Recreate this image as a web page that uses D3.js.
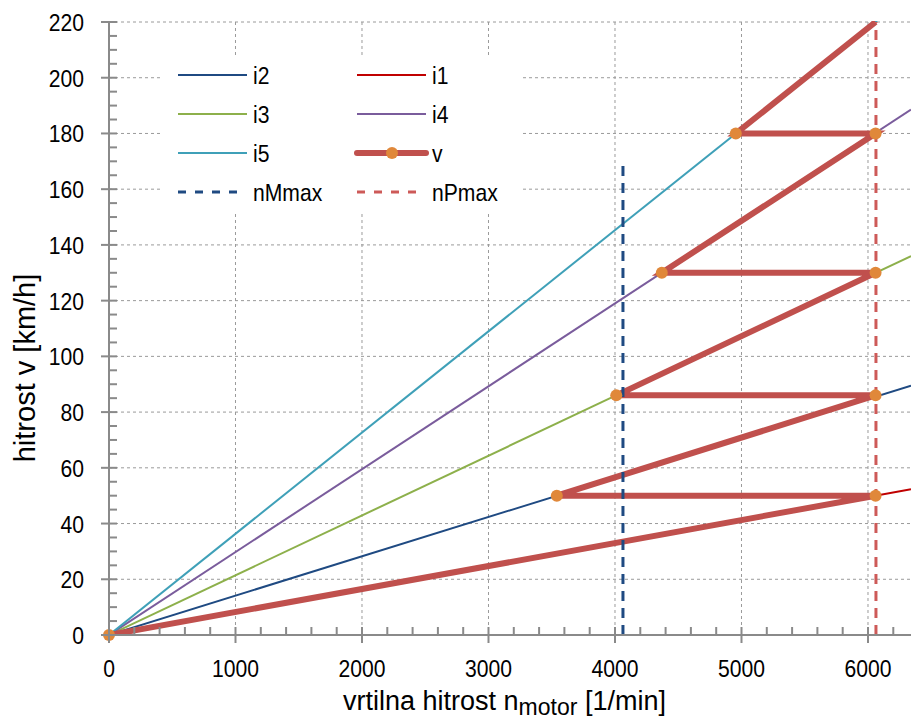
<!DOCTYPE html>
<meta charset="utf-8">
<script src="https://cdn.jsdelivr.net/npm/d3@7"></script>
<style>
  body { margin: 0; background: #fff; }
  text { font-family: "Liberation Sans", Arial, sans-serif; fill: #000; }
</style>
<div id="chart"></div>
<script>
// gear lines: speed reached at the right edge of the plot (rpm = rpmEdge)
var gears = ["i1", "i2", "i3", "i4", "i5"];
var rpmEdge = 6340;
var gearSpeedAtEdge = [52.3, 89.5, 136, 188.6, 230.3];
var gearColors = ["#c00000", "#1f4a82", "#8db04b", "#7a5c9c", "#3fa0b8"];

// saw-tooth v curve (shifting at nPmax)
var vRpm   = [0, 6060, 3540, 6060, 4010, 6060, 4370, 6060, 4955, 6060];
var vSpeed = [0,   50,   50,   86,   86,  130,  130,  180,  180,  220];

var nMmax = 4063, nMmaxTop = 170;
var nPmax = 6063, nPmaxTop = 220;

var xTicks = [0, 1000, 2000, 3000, 4000, 5000, 6000];
var yTicks = [0, 20, 40, 60, 80, 100, 120, 140, 160, 180, 200, 220];

var width = 911, height = 720;
var m = {l: 109, r: 911, t: 22, b: 635};
var narrow = 0.88;

var svg = d3.select("#chart").append("svg")
    .attr("width", width)
    .attr("height", height);

var x = d3.scaleLinear().domain([0, rpmEdge]).range([m.l, m.r]);
var y = d3.scaleLinear().domain([0, 220]).range([m.b, m.t]);

svg.append("clipPath").attr("id", "plot")
  .append("rect").attr("x", m.l).attr("y", m.t - 1)
    .attr("width", m.r - m.l).attr("height", m.b - m.t + 1);

// narrow text helper (reference uses a condensed face)
function ntext(g, px, py, str, size, anchor) {
  return g.append("text")
    .attr("transform", "translate(" + px + "," + py + ") scale(" + narrow + ",1)")
    .attr("text-anchor", anchor || "start")
    .style("font-size", size + "px")
    .text(str);
}

// grid
var grid = svg.append("g").attr("stroke", "#9a9a9a").attr("stroke-dasharray", "3,3").attr("stroke-width", 1);
grid.selectAll(".gx").data(xTicks.slice(1)).enter().append("line")
  .attr("x1", d => x(d)).attr("x2", d => x(d)).attr("y1", m.t).attr("y2", m.b);
grid.selectAll(".gy").data(yTicks.slice(1)).enter().append("line")
  .attr("x1", m.l).attr("x2", m.r).attr("y1", d => y(d)).attr("y2", d => y(d));

var plot = svg.append("g").attr("clip-path", "url(#plot)");
var line = d3.line().x(d => x(d[0])).y(d => y(d[1]));

// gear lines
gears.forEach(function(g, i) {
  plot.append("path")
    .attr("d", line([[0, 0], [rpmEdge, gearSpeedAtEdge[i]]]))
    .attr("fill", "none").attr("stroke", gearColors[i]).attr("stroke-width", 2);
});

// v
var vPts = vRpm.map((r, i) => [r, vSpeed[i]]);
plot.append("path").attr("d", line(vPts))
  .attr("fill", "none").attr("stroke", "#c0504d").attr("stroke-width", 6);

// dashed limits
plot.append("line").attr("x1", x(nMmax)).attr("x2", x(nMmax))
  .attr("y1", y(0)).attr("y2", y(nMmaxTop))
  .attr("stroke", "#1f4a82").attr("stroke-width", 3).attr("stroke-dasharray", "10,7");
plot.append("line").attr("x1", x(nPmax)).attr("x2", x(nPmax))
  .attr("y1", y(0)).attr("y2", y(nPmaxTop))
  .attr("stroke", "#cd5a58").attr("stroke-width", 3).attr("stroke-dasharray", "10,7");

// markers (last point sits on the top edge, no marker)
svg.selectAll(".mk").data(vPts.slice(0, -1)).enter().append("circle")
  .attr("cx", d => x(d[0])).attr("cy", d => y(d[1])).attr("r", 6)
  .attr("fill", "#e0883a");

// axes
var ax = svg.append("g").attr("stroke", "#8a8a8a").attr("stroke-width", 2);
ax.append("line").attr("x1", m.l).attr("x2", m.l).attr("y1", m.t).attr("y2", m.b);
ax.append("line").attr("x1", m.l).attr("x2", m.r).attr("y1", m.b).attr("y2", m.b);

ax.selectAll(".xm").data(d3.range(0, rpmEdge, 200)).enter().append("line")
  .attr("x1", d => x(d)).attr("x2", d => x(d))
  .attr("y1", m.b - 8).attr("y2", d => d % 1000 === 0 ? m.b + 8 : m.b);
ax.selectAll(".ym").data(d3.range(0, 221, 5)).enter().append("line")
  .attr("y1", d => y(d)).attr("y2", d => y(d))
  .attr("x1", d => d % 20 === 0 ? m.l - 8 : m.l).attr("x2", m.l + 8);

xTicks.forEach(d => ntext(svg, x(d), 677, d, 24, "middle"));
yTicks.forEach(d => ntext(svg, 84, y(d) + 9, d, 24, "end"));

// axis titles
svg.append("text")
  .attr("transform", "translate(35,368) rotate(-90)")
  .attr("text-anchor", "middle").style("font-size", "29px")
  .text("hitrost v [km/h]");
var xt = svg.append("text").attr("x", 343).attr("y", 710)
  .style("font-size", "27px");
xt.append("tspan").text("vrtilna hitrost n");
xt.append("tspan").attr("dy", 5).style("font-size", "23px").text("motor");
xt.append("tspan").attr("dy", -5).text(" [1/min]");

// legend
var leg = svg.append("g");
leg.append("rect").attr("x", 160).attr("y", 55).attr("width", 360).attr("height", 157).attr("fill", "#fff");
var legItems = [
  {name: "i2", color: gearColors[1], col: 0, row: 0},
  {name: "i1", color: gearColors[0], col: 1, row: 0},
  {name: "i3", color: gearColors[2], col: 0, row: 1},
  {name: "i4", color: gearColors[3], col: 1, row: 1},
  {name: "i5", color: gearColors[4], col: 0, row: 2},
  {name: "v", color: "#c0504d", col: 1, row: 2, thick: true},
  {name: "nMmax", color: "#1f4a82", col: 0, row: 3, dash: true},
  {name: "nPmax", color: "#cd5a58", col: 1, row: 3, dash: true}
];
legItems.forEach(function(d) {
  var x0 = d.col === 0 ? 178 : 357;
  var yy = 75 + d.row * 39;
  var l = leg.append("line").attr("x1", x0).attr("x2", x0 + 69).attr("y1", yy).attr("y2", yy)
    .attr("stroke", d.color).attr("stroke-width", d.thick ? 6 : (d.dash ? 3 : 2));
  if (d.dash) l.attr("stroke-dasharray", "8,9").attr("x2", x0 + 66);
  if (d.thick) {
    l.attr("stroke-linecap", "round");
    leg.append("circle").attr("cx", x0 + 35).attr("cy", yy).attr("r", 6).attr("fill", "#e0883a");
  }
  ntext(leg, x0 + 75, yy + 9, d.name, 24);
});
</script>
